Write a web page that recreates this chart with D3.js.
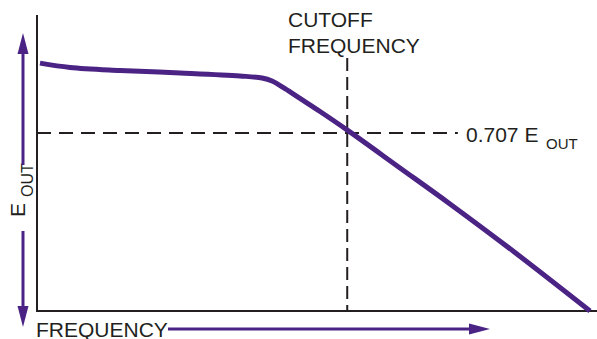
<!DOCTYPE html>
<html>
<head>
<meta charset="utf-8">
<script src="https://cdn.jsdelivr.net/npm/d3@7"></script>
<style>
  html, body { margin: 0; padding: 0; background: #fff; }
  svg { display: block; }
  text { font-family: "Liberation Sans", Arial, Helvetica, sans-serif; fill: #231f20; }
</style>
</head>
<body>
<svg id="chart" width="597" height="339"></svg>
<script>
// Data (frequency in % of axis span, Eout as fraction of passband level)
const frequency = [0.54, 5.97, 15.0, 25.9, 36.7, 40.7, 42.5, 44.85, 47.56, 51.18, 56.06, 65.64, 74.68, 86.08, 100];
const eout      = [0.984, 0.967, 0.955, 0.945, 0.933, 0.925, 0.913, 0.883, 0.844, 0.792, 0.719, 0.568, 0.425, 0.238, 0];
const cutoffFrequency = 56.1;
const cutoffLevel = 0.707;
const dashedLevelEnd = 76.1;
const labels = {
  cutoff: ["CUTOFF", "FREQUENCY"],
  level: "0.707 E",
  sub: "OUT",
  xTitle: "FREQUENCY",
  yTitle: "E"
};

const purple = "#4b2384";
const ink = "#231f20";

const svg = d3.select("#chart");
const x = d3.scaleLinear().domain([0, 100]).range([37, 590]);
const y = d3.scaleLinear().domain([0, 1]).range([311, 59.1]);

// Axes (plain lines, no ticks)
svg.append("line").attr("x1", x(0)).attr("x2", x(0)).attr("y1", 15).attr("y2", y(0) + 1)
  .attr("stroke", ink).attr("stroke-width", 2);
svg.append("line").attr("x1", x(0) - 1).attr("x2", 597).attr("y1", y(0)).attr("y2", y(0))
  .attr("stroke", ink).attr("stroke-width", 2);

// Dashed reference lines
svg.append("line").attr("x1", x(0)).attr("x2", x(dashedLevelEnd))
  .attr("y1", y(cutoffLevel)).attr("y2", y(cutoffLevel))
  .attr("stroke", ink).attr("stroke-width", 2).attr("stroke-dasharray", "14,8");
svg.append("line").attr("x1", x(cutoffFrequency)).attr("x2", x(cutoffFrequency))
  .attr("y1", 58).attr("y2", y(0))
  .attr("stroke", ink).attr("stroke-width", 2).attr("stroke-dasharray", "13,6");

// Response curve
const pts = frequency.map((f, i) => [f, eout[i]]);
const line = d3.line().x(d => x(d[0])).y(d => y(d[1])).curve(d3.curveCatmullRom.alpha(0.5));
svg.append("path").datum(pts).attr("d", line)
  .attr("fill", "none").attr("stroke", purple).attr("stroke-width", 5);

// Cutoff label
const cl = svg.append("text").attr("x", 288).attr("font-size", 21);
cl.append("tspan").attr("x", 288).attr("y", 26.5).text(labels.cutoff[0]);
cl.append("tspan").attr("x", 288).attr("y", 52.5).text(labels.cutoff[1]);

// 0.707 E OUT label
const ll = svg.append("text").attr("x", 466).attr("y", 141.5).attr("font-size", 21);
ll.append("tspan").text(labels.level);
ll.append("tspan").attr("x", 546).attr("y", 149).attr("font-size", 15).text(labels.sub);

// X title + arrow
svg.append("text").attr("x", 36).attr("y", 336.5).attr("font-size", 21).text(labels.xTitle);
const ax = 329;
svg.append("line").attr("x1", 168).attr("x2", 472).attr("y1", ax).attr("y2", ax)
  .attr("stroke", purple).attr("stroke-width", 3);
svg.append("path").attr("d", `M490,${ax} L469,${ax - 5.5} L469,${ax + 5.5} Z`).attr("fill", purple);

// Y title (rotated) + arrows
const ay = 23;
const yt = svg.append("text").attr("transform", `translate(25,217) rotate(-90)`).attr("font-size", 21);
yt.append("tspan").attr("x", 0).attr("y", 0).text(labels.yTitle);
yt.append("tspan").attr("x", 20).attr("y", 8).attr("font-size", 16).text(labels.sub);
svg.append("line").attr("x1", ay).attr("x2", ay).attr("y1", 50).attr("y2", 165)
  .attr("stroke", purple).attr("stroke-width", 3);
svg.append("path").attr("d", `M${ay},33 L${ay - 5.5},54 L${ay + 5.5},54 Z`).attr("fill", purple);
svg.append("line").attr("x1", ay).attr("x2", ay).attr("y1", 231).attr("y2", 308)
  .attr("stroke", purple).attr("stroke-width", 3);
svg.append("path").attr("d", `M${ay},327 L${ay - 5.5},306 L${ay + 5.5},306 Z`).attr("fill", purple);
</script>
</body>
</html>
